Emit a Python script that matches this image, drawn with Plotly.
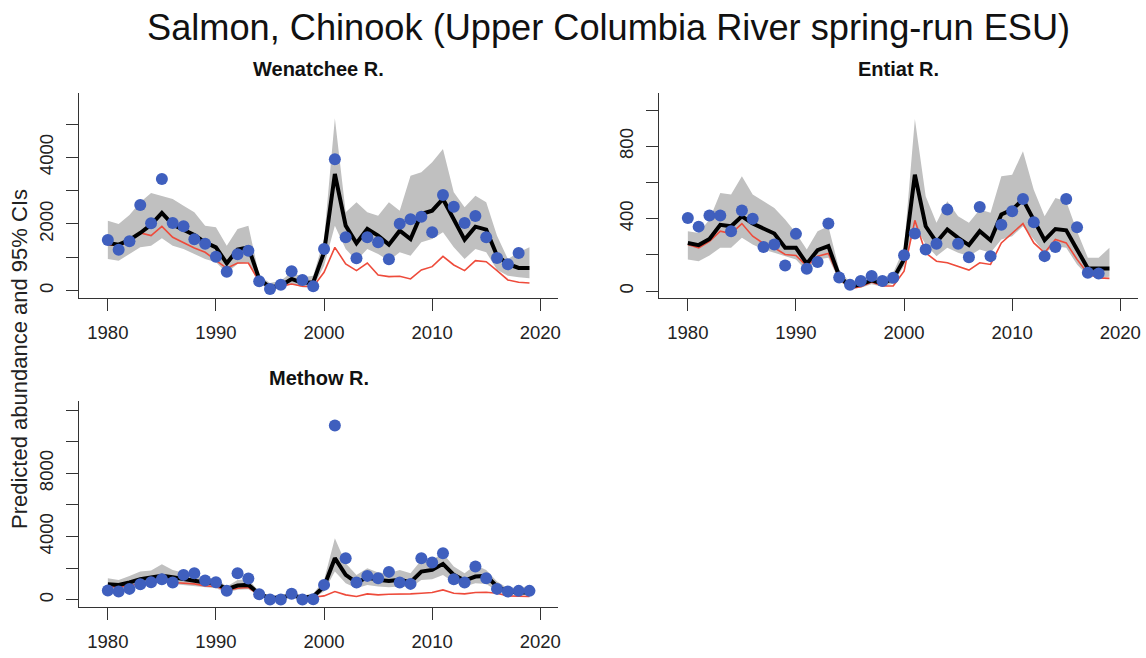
import plotly.graph_objects as go

years = list(range(1980, 2020))

# ---------------- Wenatchee R. ----------------
wen_obs_years = list(range(1980, 2019))
wen_obs = [1520, 1230, 1480, 2570, 2020, 3350, 2030, 1930, 1540, 1410,
           1020, 570, 1090, 1200, 280, 50, 180, 580, 320, 130,
           1250, 3940, 1600, 970, 1600, 1450, 940, 2010, 2140, 2220,
           1750, 2870, 2520, 2030, 2240, 1600, 980, 790, 1130]
wen_pred = [1430, 1380, 1520, 1730, 1980, 2330, 1980, 1830, 1670, 1450,
            1300, 820, 1230, 1300, 350, 100, 150, 350, 230, 250,
            1150, 3500, 1950, 1420, 1850, 1650, 1380, 1800, 1550, 2300,
            2400, 2750, 2150, 1530, 1920, 1830, 1050, 800, 680, 680]
wen_hi = [2100, 2000, 2270, 2650, 2930, 2850, 2750, 2550, 2350, 1950,
          1900, 1350, 1850, 1950, 450, 230, 300, 550, 400, 450,
          1550, 5170, 2350, 2650, 2350, 2250, 2650, 2400, 3450, 3550,
          3850, 4250, 2950, 2500, 2850, 2650, 1650, 950, 1150, 1300]
wen_lo = [950, 900, 1100, 1300, 1350, 1570, 1350, 1250, 1100, 950,
          850, 530, 800, 850, 200, 50, 70, 200, 100, 100,
          750, 1950, 1250, 900, 1250, 1100, 900, 1150, 1050, 1450,
          1550, 1750, 1300, 950, 1250, 1150, 630, 450, 400, 370]
wen_red = [1380, 1350, 1470, 1730, 1650, 1930, 1600, 1430, 1280, 1150,
           900, 670, 830, 830, 270, 100, 130, 200, 130, 120,
           550, 1300, 800, 600, 830, 470, 420, 430, 350, 620,
           720, 1030, 770, 600, 900, 870, 600, 320, 250, 230]

# ---------------- Entiat R. ----------------
ent_obs_years = list(range(1980, 2019))
ent_obs = [404, 356, 417, 417, 330, 445, 399, 243, 257, 141,
           316, 123, 160, 373, 75, 35, 55, 83, 55, 73,
           198, 318, 230, 261, 450, 261, 187, 465, 193, 366,
           441, 509, 380, 193, 244, 509, 353, 101, 97]
ent_pred = [266, 254, 288, 366, 358, 413, 373, 344, 318, 239,
            239, 151, 226, 248, 83, 24, 37, 59, 42, 68,
            175, 643, 358, 270, 340, 294, 254, 331, 281, 423,
            450, 505, 395, 281, 343, 336, 230, 125, 125, 125]
ent_hi = [331, 321, 395, 542, 533, 634, 533, 496, 459, 395,
          321, 230, 331, 358, 119, 46, 64, 92, 68, 101,
          239, 950, 524, 377, 496, 413, 377, 450, 432, 634,
          643, 772, 560, 413, 514, 496, 331, 184, 184, 239]
ent_lo = [175, 165, 197, 239, 239, 294, 257, 230, 211, 193,
          175, 110, 175, 184, 55, 13, 18, 37, 24, 42,
          138, 358, 257, 193, 239, 211, 193, 230, 211, 285,
          303, 358, 285, 211, 248, 239, 147, 83, 73, 79]
ent_red = [257, 239, 275, 331, 318, 373, 303, 263, 239, 202,
           197, 138, 193, 208, 73, 13, 24, 50, 28, 28,
           110, 391, 211, 165, 156, 138, 116, 156, 147, 266,
           321, 373, 266, 211, 285, 266, 175, 97, 73, 70]

# ---------------- Methow R. ----------------
met_obs_years = list(range(1980, 2020))
met_obs = [590, 527, 695, 990, 1117, 1306, 1096, 1580, 1686, 1222,
           1117, 569, 1686, 1348, 358, 20, 20, 380, 20, 42,
           948, 11020, 2634, 1096, 1517, 1370, 1770, 1096, 1011, 2634,
           2360, 2950, 1306, 1096, 2107, 1370, 695, 527, 569, 569]
met_pred = [990, 948, 1096, 1306, 1412, 1517, 1433, 1306, 1222, 1096,
            1054, 674, 906, 948, 379, 105, 169, 274, 147, 211,
            843, 2634, 1580, 1096, 1412, 1264, 1201, 1264, 1117, 1791,
            1896, 2276, 1580, 1222, 1475, 1517, 843, 527, 464, 464]
met_hi = [1370, 1264, 1517, 1791, 1854, 2254, 1896, 1728, 1517, 1370,
          1370, 843, 1264, 1306, 527, 211, 253, 421, 274, 379,
          1264, 3898, 2318, 1580, 2002, 1728, 1686, 1896, 1686, 2528,
          2528, 2950, 2107, 1686, 2212, 1896, 1159, 737, 801, 843]
met_lo = [737, 674, 801, 948, 1011, 1096, 1011, 948, 885, 801,
          737, 464, 632, 674, 274, 63, 105, 169, 84, 105,
          527, 1791, 1054, 737, 948, 843, 801, 843, 780, 1264,
          1306, 1580, 1096, 843, 1054, 1011, 569, 358, 316, 295]
met_red = [843, 801, 906, 1011, 1096, 1222, 1096, 1054, 1011, 885,
           843, 590, 737, 780, 316, 105, 147, 211, 147, 169,
           253, 527, 316, 211, 379, 316, 358, 358, 379, 421,
           464, 632, 421, 379, 464, 485, 421, 253, 211, 211]

x_ticks = [1980, 1990, 2000, 2010, 2020]
panels = [
    dict(name="Wenatchee R.", obs_x=wen_obs_years, obs=wen_obs, pred=wen_pred,
         hi=wen_hi, lo=wen_lo, red=wen_red, yr=[-230, 5940],
         major=[0, 2000, 4000], minor=1000),
    dict(name="Entiat R.", obs_x=ent_obs_years, obs=ent_obs, pred=ent_pred,
         hi=ent_hi, lo=ent_lo, red=ent_red, yr=[-40, 1096],
         major=[0, 400, 800], minor=200),
    dict(name="Methow R.", obs_x=met_obs_years, obs=met_obs, pred=met_pred,
         hi=met_hi, lo=met_lo, red=met_red, yr=[-470, 12575],
         major=[0, 4000, 8000], minor=2000),
]

W, H = 1146, 658
# plot-area boxes in pixels: (left, right, top, bottom)
boxes = [(79.3, 558, 92.7, 298.3), (659.3, 1138, 92.7, 298.3), (79.3, 558, 401, 607.3)]

AX = "#333333"
BAND = "#C0C0C0"
RED = "#EE4B3B"
BLUE = "#3F5FBE"
FONT = "Liberation Sans, Arial, sans-serif"

fig = go.Figure()
annotations = []
for i, (p, b) in enumerate(zip(panels, boxes), start=1):
    xa = "x" if i == 1 else f"x{i}"
    ya = "y" if i == 1 else f"y{i}"
    fig.add_trace(go.Scatter(x=years, y=p["lo"], mode="lines", line=dict(width=0),
                             hoverinfo="skip", showlegend=False, xaxis=xa, yaxis=ya))
    fig.add_trace(go.Scatter(x=years, y=p["hi"], mode="lines", line=dict(width=0),
                             fill="tonexty", fillcolor=BAND, showlegend=False,
                             xaxis=xa, yaxis=ya))
    fig.add_trace(go.Scatter(x=years, y=p["red"], mode="lines",
                             line=dict(color=RED, width=1.6), showlegend=False,
                             xaxis=xa, yaxis=ya))
    fig.add_trace(go.Scatter(x=years, y=p["pred"], mode="lines",
                             line=dict(color="black", width=4), showlegend=False,
                             xaxis=xa, yaxis=ya))
    fig.add_trace(go.Scatter(x=p["obs_x"], y=p["obs"], mode="markers",
                             marker=dict(color=BLUE, size=12, line=dict(width=0)),
                             showlegend=False, xaxis=xa, yaxis=ya))
    l, r, t, bt = b
    xdom = [l / W, r / W]
    ydom = [1 - bt / H, 1 - t / H]
    common = dict(showline=True, linecolor=AX, linewidth=1.3, ticks="outside",
                  ticklen=12, tickwidth=1.3, tickcolor=AX, showgrid=False,
                  zeroline=False, automargin=False,
                  tickfont=dict(family=FONT, size=18.5, color="#222"))
    fig.layout[f"xaxis{'' if i == 1 else i}"] = dict(
        domain=xdom, range=[1977.36, 2021.64], tickvals=x_ticks, anchor=ya,
        ticklabelstandoff=5, **common)
    fig.layout[f"yaxis{'' if i == 1 else i}"] = dict(
        domain=ydom, range=p["yr"], tickvals=p["major"], anchor=xa, tickangle=-90,
        minor=dict(ticks="outside", ticklen=12, tickwidth=1.3, tickcolor=AX,
                   dtick=p["minor"], tick0=0, showgrid=False),
        ticklabelstandoff=6, **common)
    annotations.append(dict(text=f"<b>{p['name']}</b>", xref="paper", yref="paper",
                            x=(l + r) / 2 / W, y=1 - (t - 23.5) / H, showarrow=False,
                            xanchor="center", yanchor="middle",
                            font=dict(family=FONT, size=20, color="#111")))

annotations.append(dict(text="Salmon, Chinook (Upper Columbia River spring-run ESU)",
                        xref="paper", yref="paper", x=608 / W, y=1 - 28 / H,
                        showarrow=False, xanchor="center", yanchor="middle",
                        font=dict(family=FONT, size=36.2, color="#111")))
annotations.append(dict(text="Predicted abundance and 95% CIs", xref="paper",
                        yref="paper", x=19 / W, y=1 - 359 / H, showarrow=False,
                        textangle=-90, xanchor="center", yanchor="middle",
                        font=dict(family=FONT, size=22, color="#222")))

fig.update_layout(width=W, height=H, margin=dict(l=0, r=0, t=0, b=0),
                  plot_bgcolor="white", paper_bgcolor="white",
                  annotations=annotations, showlegend=False)
# remove the browser's default 8px page margin so the figure fills the window exactly
fig.write_html("out.html",
               config={"displayModeBar": False},
               post_script="document.body.style.margin='0';document.body.style.overflow='hidden';")
